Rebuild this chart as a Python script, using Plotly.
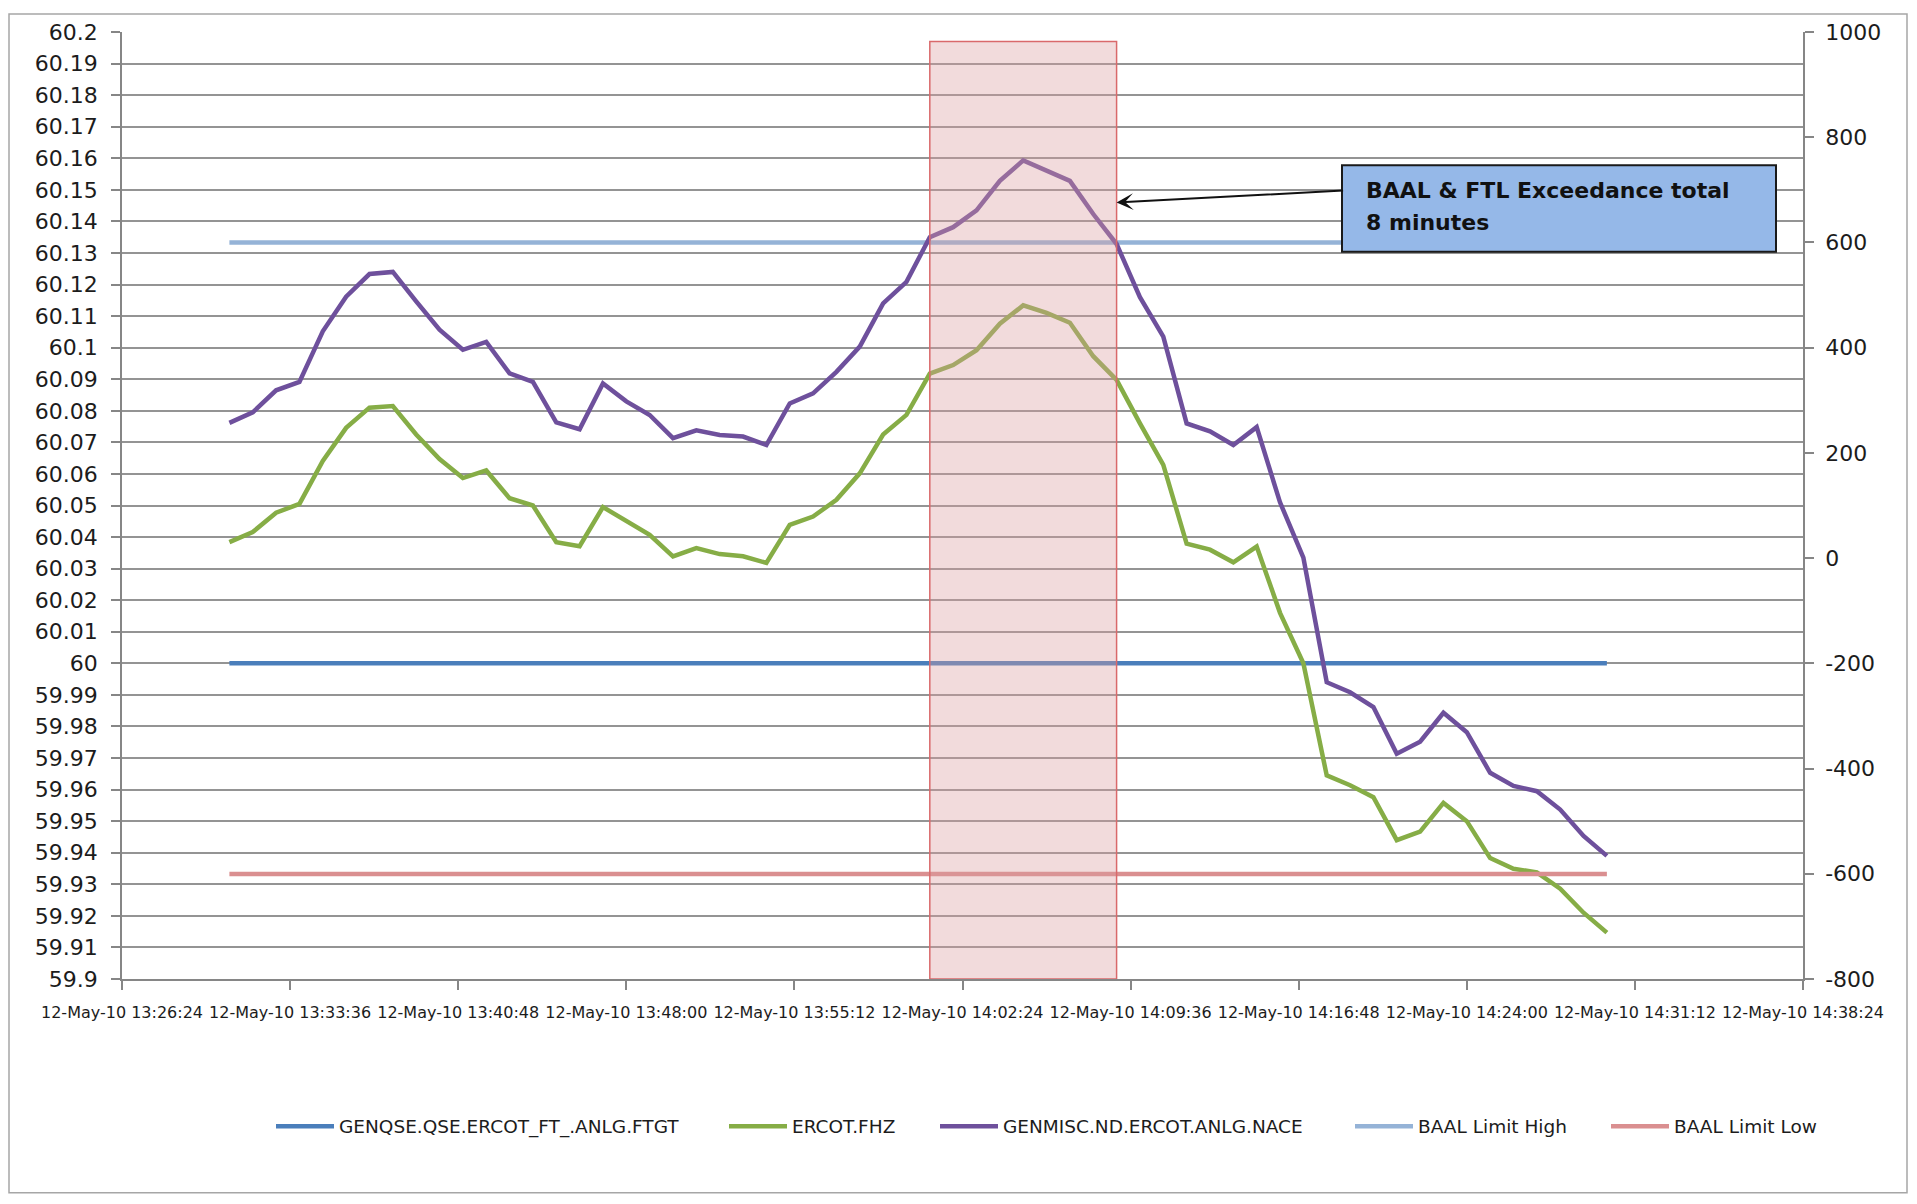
import pandas as pd
import plotly.graph_objects as go

# ---------------- data ----------------
TIMES = pd.date_range("2010-05-12 13:31:00", periods=60, freq="min")

FHZ = [60.0384, 60.0416, 60.0477, 60.0505, 60.0641, 60.0746, 60.0810, 60.0815, 60.0725, 60.0647,
       60.0587, 60.0611, 60.0523, 60.0500, 60.0384, 60.0371, 60.0495, 60.0450, 60.0407, 60.0339,
       60.0365, 60.0346, 60.0339, 60.0318, 60.0439, 60.0465, 60.0518, 60.0602, 60.0725, 60.0787,
       60.0918, 60.0945, 60.0992, 60.1076, 60.1134, 60.1110, 60.1079, 60.0973, 60.0898, 60.0760,
       60.0629, 60.0379, 60.0360, 60.0320, 60.0370, 60.0160, 60.0000, 59.9645, 59.9614, 59.9576,
       59.9440, 59.9467, 59.9558, 59.9500, 59.9383, 59.9349, 59.9338, 59.9286, 59.9210, 59.9147]

NACE = [257, 277, 319, 335, 431, 497, 540, 544, 488, 434,
        396, 411, 351, 335, 258, 245, 332, 298, 272, 228,
        243, 234, 231, 215, 294, 313, 354, 402, 484, 525,
        610, 629, 661, 717, 756, 736, 717, 654, 597, 496,
        421, 256, 241, 215, 249, 106, 1, -236, -255, -283,
        -372, -349, -294, -331, -408, -433, -443, -478, -528, -566]

FTGT = 60.0
BAAL_HIGH = 60.1333
BAAL_LOW = 59.9333

SERIES_NAMES = ["GENQSE.QSE.ERCOT_FT_.ANLG.FTGT", "ERCOT.FHZ", "GENMISC.ND.ERCOT.ANLG.NACE",
                "BAAL Limit High", "BAAL Limit Low"]
SERIES_COLORS = ["#4A7EBB", "#86AD46", "#6E509C", "#95B3D7", "#DA8F90"]

SHADE_START = "2010-05-12 14:01:00"
SHADE_END = "2010-05-12 14:09:00"
SHADE_TOP = 60.197
ARROW_Y = 60.146

X_START = "2010-05-12 13:26:24"
X_END = "2010-05-12 14:38:24"
X_STEP_MS = 432000  # 7 min 12 s

LEFT_TICK_LABELS = ["59.9", "59.91", "59.92", "59.93", "59.94", "59.95", "59.96", "59.97", "59.98",
                    "59.99", "60", "60.01", "60.02", "60.03", "60.04", "60.05", "60.06", "60.07",
                    "60.08", "60.09", "60.1", "60.11", "60.12", "60.13", "60.14", "60.15", "60.16",
                    "60.17", "60.18", "60.19", "60.2"]
RIGHT_TICK_LABELS = ["-800", "-600", "-400", "-200", "0", "200", "400", "600", "800", "1000"]

ANNOT_LINES = ["BAAL & FTL Exceedance total", "8 minutes"]

# ---------------- geometry (page pixels; page body has an 8px margin) ----------------
OFF = 8
PLOT_L, PLOT_R, PLOT_T, PLOT_B = 122, 1803, 27, 979
W, H = 1901, 1188
ML, MT = PLOT_L - OFF, PLOT_T - OFF
MR, MB = W - (PLOT_R - OFF), H - (PLOT_B - OFF)
PW, PH = PLOT_R - PLOT_L, PLOT_B - PLOT_T


def px(xp):
    return (xp - PLOT_L) / PW


def py(yp):
    return (PLOT_B - yp) / PH


AXIS_GRAY = "#868686"
TEXT = "#1c1c1c"

fig = go.Figure()
n = len(TIMES)
legend_ids = ["legend", "legend2", "legend3", "legend4", "legend5"]
series_y = [[FTGT] * n, FHZ, NACE, [BAAL_HIGH] * n, [BAAL_LOW] * n]
series_axis = ["y", "y", "y2", "y", "y"]
for name, color, yv, ax, lg in zip(SERIES_NAMES, SERIES_COLORS, series_y, series_axis, legend_ids):
    fig.add_trace(go.Scatter(x=TIMES, y=yv, name=name, mode="lines",
                             line=dict(color=color, width=4.5), yaxis=ax, legend=lg))

left_vals = [float(v) for v in LEFT_TICK_LABELS]
right_vals = [float(v) for v in RIGHT_TICK_LABELS]

tick_font = dict(family="DejaVu Sans", size=22, color=TEXT)

legend_line_starts = [276, 729, 940, 1355, 1611]
legend_font = dict(family="DejaVu Sans", size=18.5, color=TEXT)
legend_layout = {}
for lg, xs in zip(legend_ids, legend_line_starts):
    legend_layout[lg] = dict(orientation="h", x=px(xs - 5), xanchor="left", y=py(1127.5),
                             yanchor="middle", font=legend_font, itemwidth=58,
                             bgcolor="rgba(0,0,0,0)", borderwidth=0)

fig.update_layout(
    width=W, height=H,
    margin=dict(l=ML, r=MR, t=MT, b=MB, pad=0),
    paper_bgcolor="white", plot_bgcolor="white",
    showlegend=True,
    xaxis=dict(type="date", range=[X_START, X_END], tick0=X_START, dtick=X_STEP_MS,
               tickformat="%d-%b-%y %H:%M:%S", showgrid=False, zeroline=False,
               showline=True, linecolor=AXIS_GRAY, linewidth=1.5,
               ticks="outside", ticklen=9, tickcolor=AXIS_GRAY, tickwidth=1.5,
               ticklabelstandoff=9,
               tickfont=dict(family="DejaVu Sans", size=16, color=TEXT)),
    yaxis=dict(range=[59.9, 60.2], tickmode="array", tickvals=left_vals, ticktext=LEFT_TICK_LABELS,
               showgrid=True, gridcolor="#949494", gridwidth=1.5, zeroline=False,
               showline=True, linecolor=AXIS_GRAY, linewidth=1.5,
               ticks="outside", ticklen=9, tickcolor=AXIS_GRAY, tickwidth=1.5,
               ticklabelstandoff=9, tickfont=tick_font),
    yaxis2=dict(range=[-800, 1000], overlaying="y", side="right", tickmode="array",
                tickvals=right_vals, ticktext=RIGHT_TICK_LABELS, showgrid=False, zeroline=False,
                showline=True, linecolor=AXIS_GRAY, linewidth=1.5,
                ticks="outside", ticklen=9, tickcolor=AXIS_GRAY, tickwidth=1.5,
                ticklabelstandoff=7, tickfont=tick_font),
    **legend_layout,
)

# shaded exceedance window
fig.add_shape(type="rect", xref="x", yref="y", x0=SHADE_START, x1=SHADE_END, y0=59.9, y1=SHADE_TOP,
              fillcolor="rgba(219,157,159,0.37)", line=dict(color="#D9696B", width=1.5), layer="above")

# annotation box
fig.add_shape(type="rect", xref="paper", yref="paper", x0=px(1342), x1=px(1776), y0=py(248), y1=py(161),
              fillcolor="#95B8E8", line=dict(color="#1a1a1a", width=2), layer="above")
for line_text, ypix in zip(ANNOT_LINES, [186, 218.5]):
    fig.add_annotation(xref="paper", yref="paper", x=px(1364), y=py(ypix),
                       xanchor="left", yanchor="middle", showarrow=False,
                       text="<b>" + line_text + "</b>",
                       font=dict(family="DejaVu Sans", size=22, color="#111111"))

# arrow pointing to the shaded window
fig.add_annotation(x=SHADE_END, y=ARROW_Y, xref="x", yref="y", text="", showarrow=True,
                   arrowhead=3, arrowsize=1.4, arrowwidth=2, arrowcolor="#111111",
                   ax=1342 - 1114, ay=-12, standoff=0)

# outer chart border
fig.add_shape(type="rect", xref="paper", yref="paper",
              x0=px(9), x1=px(OFF + W - 2), y0=py(OFF + H - 2), y1=py(9),
              line=dict(color="#a6a6a6", width=1.5), fillcolor="rgba(0,0,0,0)", layer="below")

fig.write_html("out.html")
